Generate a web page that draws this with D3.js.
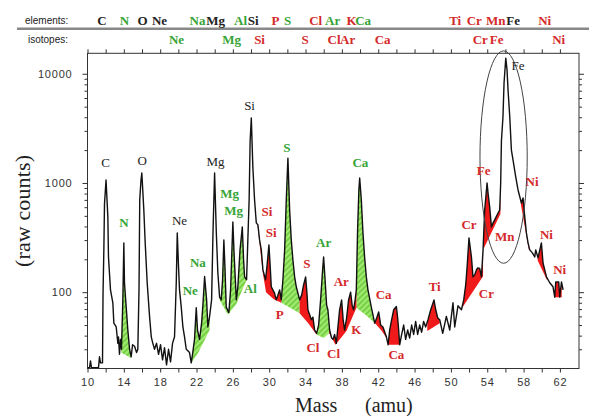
<!DOCTYPE html>
<html>
<head>
<meta charset="utf-8">
<script src="https://cdn.jsdelivr.net/npm/d3@7"></script>
<style>
  body { margin: 0; background: #fff; }
  svg { display: block; }
  .tick text { font-family: "Liberation Sans", Arial, sans-serif; font-size: 11px; fill: #333; letter-spacing: 0.8px; }
  .tick line { stroke: #333; }
</style>
</head>
<body>
<svg class="chart" width="589" height="416"></svg>
<script>
// mass spectrum, [mass (amu), raw counts]
var spectrum = [
  [10.0, 20.3], [10.22, 20.3], [10.33, 23.5], [10.44, 20.3], [11.21, 20.3], [11.32, 25.6], [11.43, 22.5],
  [11.65, 22.5], [11.71, 98], [11.8, 244], [11.87, 640], [12.04, 1065], [12.24, 489], [12.31, 210],
  [12.53, 105], [12.79, 80], [12.9, 52], [13.16, 48], [13.34, 34], [13.41, 39], [13.52, 27], [13.63, 37],
  [13.74, 30], [13.89, 85], [14.0, 282], [14.07, 122], [14.26, 73], [14.44, 45], [14.63, 30], [14.81, 25.6],
  [14.96, 33], [15.18, 32], [15.4, 28], [15.54, 30], [15.67, 105], [15.75, 700], [15.89, 1065], [15.98, 1235],
  [16.2, 566], [16.35, 283], [16.57, 122], [16.83, 60], [17.02, 39], [17.19, 34], [17.38, 30], [17.6, 34],
  [17.82, 27], [18.04, 33], [18.26, 24], [18.48, 31], [18.7, 21.6], [18.92, 30], [19.14, 23], [19.36, 34],
  [19.58, 39], [19.77, 122], [19.88, 349], [20.02, 170], [20.13, 105], [20.32, 73], [20.5, 48], [20.68, 39],
  [20.87, 30], [21.23, 28], [21.42, 22.5], [21.56, 27], [21.78, 37], [21.97, 72], [22.11, 45], [22.33, 37],
  [22.56, 52], [22.72, 80], [22.89, 139], [23.11, 85], [23.25, 48], [23.44, 60], [23.66, 85], [23.82, 371],
  [23.99, 1235], [24.18, 349], [24.35, 150], [24.54, 90], [24.72, 85], [24.87, 130], [25.01, 301], [25.14, 160],
  [25.27, 73], [25.56, 65], [25.75, 105], [26.0, 440], [26.13, 229], [26.38, 85], [26.55, 112], [26.79, 244],
  [27.04, 396], [27.18, 197], [27.29, 138], [27.51, 130], [27.79, 699], [27.9, 2400], [28.03, 3930], [28.2, 1400],
  [28.39, 699], [28.58, 431], [28.76, 413], [28.94, 301], [29.13, 244], [29.31, 160], [29.6, 130], [29.77, 178],
  [29.97, 271], [30.1, 178], [30.23, 112], [30.59, 98], [30.78, 85], [31.15, 105], [31.33, 85], [31.51, 130],
  [31.7, 244], [31.88, 699], [32.06, 1690], [32.25, 566], [32.43, 301], [32.61, 197], [32.8, 138], [32.98, 112],
  [33.35, 85], [33.57, 94], [33.79, 117], [34.01, 138], [34.17, 94], [34.26, 69], [34.64, 56], [34.81, 59],
  [35.0, 45], [35.22, 42], [35.44, 50], [35.66, 85], [35.88, 160], [35.99, 210], [36.15, 130], [36.32, 76],
  [36.46, 69], [36.65, 45], [36.87, 38], [37.02, 37], [37.2, 41], [37.39, 34], [37.53, 45], [37.75, 69],
  [37.97, 85], [38.14, 56], [38.3, 45], [38.52, 58], [38.74, 85], [38.96, 100], [39.13, 76], [39.29, 69],
  [39.46, 85], [39.59, 105], [39.73, 371], [39.87, 863], [39.96, 1110], [40.14, 700], [40.32, 349], [40.5, 210],
  [40.69, 138], [40.87, 105], [41.24, 73], [41.61, 52], [41.83, 58], [42.05, 66], [42.27, 50], [42.52, 48],
  [42.9, 39], [43.09, 33], [43.26, 45], [43.48, 56], [43.7, 69], [44.0, 74], [44.14, 58], [44.25, 45],
  [44.36, 33], [44.58, 41], [44.8, 50], [45.02, 37], [45.24, 45], [45.46, 38], [45.68, 50], [45.9, 41],
  [46.12, 54], [46.34, 41], [46.56, 50], [46.78, 43], [47.0, 54], [47.22, 48], [47.48, 56], [47.78, 69],
  [48.14, 85], [48.33, 69], [48.55, 58], [48.77, 56], [49.1, 42], [49.5, 60], [49.87, 45], [50.23, 80],
  [50.42, 48], [50.78, 75], [51.16, 69], [51.41, 85], [51.63, 117], [51.8, 178], [51.99, 314], [52.26, 210],
  [52.43, 138], [52.62, 144], [52.81, 160], [52.95, 167], [53.17, 165], [53.36, 138], [53.54, 244], [53.72, 566],
  [53.98, 1000], [54.11, 777], [54.27, 603], [54.46, 396], [54.64, 431], [54.82, 459], [55.19, 531], [55.37, 566],
  [55.48, 1000], [55.56, 2420], [55.73, 4020], [55.85, 8220], [56.04, 13900], [56.18, 10800], [56.29, 7100],
  [56.48, 4020], [56.66, 2000], [56.84, 1620], [57.14, 1130], [57.39, 863], [57.76, 656], [57.94, 729],
  [58.13, 489], [58.31, 349], [58.49, 283], [58.68, 244], [58.97, 229], [59.23, 210], [59.34, 244], [59.59, 206],
  [59.96, 283], [60.14, 185], [60.52, 138], [60.88, 122], [61.24, 112], [61.43, 90], [61.54, 124], [61.87, 124],
  [61.98, 90], [62.17, 124], [62.35, 105]
];

// baselines under the hatched (green) isotope areas, [mass, counts]
var greenAreas = [
  [[13.7, 28], [14.8, 25]],
  [[21.42, 22.5], [22.2, 28], [23.44, 45]],
  [[24.54, 85], [25.45, 62], [26.38, 78], [27.48, 128]],
  [[31.33, 80], [32.3, 72], [33.35, 64]],
  [[35.2, 41], [36.0, 38], [36.6, 42]],
  [[39.6, 72], [40.6, 62], [41.65, 52]]
];

// baselines under the red isotope areas
var redAreas = [
  [[28.72, 410], [29.0, 250], [29.3, 150], [29.65, 100], [30.5, 86], [31.33, 80]],
  [[33.35, 64], [34.3, 52], [35.2, 41]],
  [[36.6, 42], [37.3, 33], [38.5, 44], [39.6, 72]],
  [[41.65, 52], [42.4, 44], [42.9, 38]],
  [[43.1, 33], [44.36, 33]],
  [[47.4, 44], [48.77, 52]],
  [[51.1, 69], [53.54, 140]],
  [[53.6, 250], [55.45, 520]],
  [[57.7, 640], [58.6, 240]],
  [[59.55, 195], [60.6, 128]],
  [[61.43, 90], [62.2, 90]]
];

// header rows: [label, mass position, colour]
var elementLabels = [
  ["C", 11.6, "k"], ["N", 14.07, "g"], ["O", 16.06, "k"], ["Ne", 17.93, "k"], ["Na", 22.11, "g"],
  ["Mg", 24.1, "k"], ["Al", 26.85, "g"], ["Si", 28.23, "k"], ["P", 30.7, "r"], ["S", 32.03, "g"],
  ["Cl", 35.11, "r"], ["Ar", 36.98, "g"], ["K", 39.07, "r"], ["Ca", 40.34, "g"], ["Ti", 50.47, "r"],
  ["Cr", 52.57, "r"], ["Mn", 54.93, "r"], ["Fe", 56.86, "k"], ["Ni", 60.33, "r"]
];
var isotopeLabels = [
  ["Ne", 19.8, "g"], ["Mg", 25.86, "g"], ["Si", 28.94, "r"], ["S", 33.95, "r"], ["Cl", 37.14, "r"],
  ["Ar", 38.63, "r"], ["Ca", 42.49, "r"], ["Cr", 53.23, "r"], ["Fe", 55.04, "r"], ["Ni", 61.87, "r"]
];

// peak labels: [label, mass, counts, colour]
var peakLabels = [
  ["C", 11.98, 1556, "k"], ["O", 16.02, 1623, "k"], ["N", 14.0, 433, "g"], ["Ne", 20.13, 449, "k"],
  ["Mg", 24.1, 1567, "k"], ["Si", 27.84, 5170, "k"], ["S", 31.95, 2121, "g"], ["Ca", 40.03, 1546, "g"],
  ["Mg", 25.64, 805, "g"], ["Mg", 26.08, 566, "g"], ["Si", 29.75, 546, "r"], ["Si", 30.23, 349, "r"],
  ["Na", 22.15, 188, "g"], ["Ne", 21.31, 103, "g"], ["Al", 27.92, 109, "g"], ["P", 31.15, 62, "r"],
  ["S", 34.15, 182, "r"], ["Ar", 36.0, 284, "g"], ["Ar", 37.94, 125, "r"], ["Ca", 42.6, 94.5, "r"],
  ["Cl", 34.81, 31.4, "r"], ["Cl", 37.09, 27.3, "r"], ["K", 39.59, 45.9, "r"], ["Ca", 44.0, 26.7, "r"],
  ["Ti", 48.22, 112, "r"], ["Cr", 51.99, 413, "r"], ["Cr", 53.91, 98, "r"], ["Fe", 53.61, 1315, "r"],
  ["Mn", 55.92, 323, "r"], ["Ni", 58.93, 1028, "r"], ["Ni", 60.52, 341, "r"], ["Ni", 61.98, 160, "r"],
  ["Fe", 57.39, 12000, "k"]
];

// ring round the main Fe peak: mass range and counts range
var feRing = {m0: 53.2, m1: 58.4, c0: 184, c1: 16200};

var xTicks = d3.range(10, 64, 2);
var yMajor = [100, 1000, 10000];
var yMinor = [30, 40, 50, 60, 70, 80, 90, 200, 300, 400, 500, 600, 700, 800, 900,
              2000, 3000, 4000, 5000, 6000, 7000, 8000, 9000];

var colors = {k: "#222", g: "#36a436", r: "#d42a2a"};

var plot = {left: 87.5, right: 579, top: 53.3, bottom: 368.5};

var x = d3.scaleLinear().domain([10, 64.1]).range([plot.left, plot.right]);
var y = d3.scaleLog().domain([20, 15400]).range([plot.bottom, plot.top]);

var svg = d3.select(".chart");

var hatch = svg.append("defs").append("pattern")
  .attr("id", "hatch")
  .attr("patternUnits", "userSpaceOnUse")
  .attr("width", 4).attr("height", 4)
  .attr("patternTransform", "rotate(45)");
hatch.append("rect").attr("width", 4).attr("height", 4).attr("fill", "#a3ea72");
hatch.append("line").attr("x1", 1).attr("y1", 0).attr("x2", 1).attr("y2", 4)
  .attr("stroke", "#5cc22c").attr("stroke-width", 1.3);

// header
svg.append("text")
  .attr("x", 25).attr("y", 24)
  .style("font-family", "Liberation Sans, Arial, sans-serif").style("font-size", "10px").style("fill", "#222")
  .text("elements:");
svg.append("line")
  .attr("x1", 17).attr("x2", 589).attr("y1", 28.7).attr("y2", 28.7)
  .attr("stroke", "#888").attr("stroke-width", 2.5);
svg.append("text")
  .attr("x", 28).attr("y", 43)
  .style("font-family", "Liberation Sans, Arial, sans-serif").style("font-size", "10px").style("fill", "#222")
  .text("isotopes:");

function headerRow(data, rowY) {
  svg.append("g").selectAll("text")
    .data(data)
    .enter().append("text")
    .attr("x", function(d) { return x(d[1]); })
    .attr("y", rowY)
    .attr("dy", "0.35em")
    .attr("text-anchor", "middle")
    .style("font-family", "Liberation Serif, Times New Roman, serif")
    .style("font-size", "13px").style("font-weight", "bold")
    .style("fill", function(d) { return colors[d[2]]; })
    .text(function(d) { return d[0]; });
}
headerRow(elementLabels, 20.5);
headerRow(isotopeLabels, 39.3);

// spectrum value at any mass, interpolated on the log axis
function countsAt(m) {
  for (var i = 0; i < spectrum.length - 1; i++) {
    var a = spectrum[i], b = spectrum[i + 1];
    if (m >= a[0] && m <= b[0]) {
      var t = (m - a[0]) / (b[0] - a[0]);
      return Math.pow(10, Math.log10(a[1]) + t * (Math.log10(b[1]) - Math.log10(a[1])));
    }
  }
  return spectrum[spectrum.length - 1][1];
}

function areaPoints(base) {
  var m0 = base[0][0], m1 = base[base.length - 1][0];
  var top = [[m0, countsAt(m0)]]
    .concat(spectrum.filter(function(d) { return d[0] > m0 && d[0] < m1; }))
    .concat([[m1, countsAt(m1)]]);
  return top.concat(base.slice().reverse());
}

var line = d3.line()
  .x(function(d) { return x(d[0]); })
  .y(function(d) { return y(d[1]); });

svg.append("g").selectAll("path")
  .data(greenAreas)
  .enter().append("path")
  .attr("d", function(d) { return line(areaPoints(d)) + "Z"; })
  .attr("fill", "url(#hatch)");

svg.append("g").selectAll("path")
  .data(redAreas)
  .enter().append("path")
  .attr("d", function(d) { return line(areaPoints(d)) + "Z"; })
  .attr("fill", "#f01a1a");

svg.append("path")
  .datum(spectrum)
  .attr("d", line)
  .attr("fill", "none")
  .attr("stroke", "#111")
  .attr("stroke-width", 1.4)
  .attr("stroke-linejoin", "round");

// axes, ticks outward all round
svg.append("g")
  .attr("transform", "translate(0," + plot.bottom + ")")
  .call(d3.axisBottom(x).tickValues(xTicks).tickSize(4).tickPadding(6)
    .tickFormat(function(d) { return (d - 10) % 4 == 0 ? d : ""; }));
svg.append("g")
  .attr("transform", "translate(0," + plot.top + ")")
  .call(d3.axisTop(x).tickValues(xTicks).tickSize(4).tickFormat(""));

svg.append("g")
  .attr("transform", "translate(" + plot.left + ",0)")
  .call(d3.axisLeft(y).tickValues(yMajor).tickSize(5).tickPadding(10).tickFormat(d3.format("d")));
svg.append("g")
  .attr("transform", "translate(" + plot.left + ",0)")
  .call(d3.axisLeft(y).tickValues(yMinor).tickSize(3).tickFormat(""));
svg.append("g")
  .attr("transform", "translate(" + plot.right + ",0)")
  .call(d3.axisRight(y).tickValues(yMajor).tickSize(5).tickFormat(""));
svg.append("g")
  .attr("transform", "translate(" + plot.right + ",0)")
  .call(d3.axisRight(y).tickValues(yMinor).tickSize(3).tickFormat(""));

svg.selectAll(".domain").remove();

svg.append("rect")
  .attr("x", plot.left).attr("y", plot.top)
  .attr("width", plot.right - plot.left).attr("height", plot.bottom - plot.top)
  .attr("fill", "none").attr("stroke", "#333").attr("stroke-width", 1);

// ring round the Fe peak
svg.append("ellipse")
  .attr("cx", (x(feRing.m0) + x(feRing.m1)) / 2)
  .attr("cy", (y(feRing.c0) + y(feRing.c1)) / 2)
  .attr("rx", (x(feRing.m1) - x(feRing.m0)) / 2)
  .attr("ry", (y(feRing.c0) - y(feRing.c1)) / 2)
  .attr("fill", "none").attr("stroke", "#444").attr("stroke-width", 1);

// peak labels
svg.append("g").selectAll("text")
  .data(peakLabels)
  .enter().append("text")
  .attr("x", function(d) { return x(d[1]); })
  .attr("y", function(d) { return y(d[2]); })
  .attr("dy", "0.35em")
  .attr("text-anchor", "middle")
  .style("font-family", "Liberation Serif, Times New Roman, serif")
  .style("font-size", "13px")
  .style("font-weight", function(d) { return d[3] == "k" ? "normal" : "bold"; })
  .style("fill", function(d) { return colors[d[3]]; })
  .text(function(d) { return d[0]; });

// axis titles
var xTitle = svg.append("text")
  .attr("y", 412)
  .style("font-family", "Liberation Serif, Times New Roman, serif")
  .style("font-size", "20px").style("fill", "#222");
xTitle.append("tspan").attr("x", 295).text("Mass");
xTitle.append("tspan").attr("x", 365).text("(amu)");

svg.append("text")
  .attr("transform", "translate(22.5,211) rotate(-90)")
  .attr("dy", "0.35em")
  .attr("text-anchor", "middle")
  .attr("textLength", 112)
  .style("font-family", "Liberation Serif, Times New Roman, serif")
  .style("font-size", "22px").style("fill", "#222")
  .text("(raw counts)");
</script>
</body>
</html>
